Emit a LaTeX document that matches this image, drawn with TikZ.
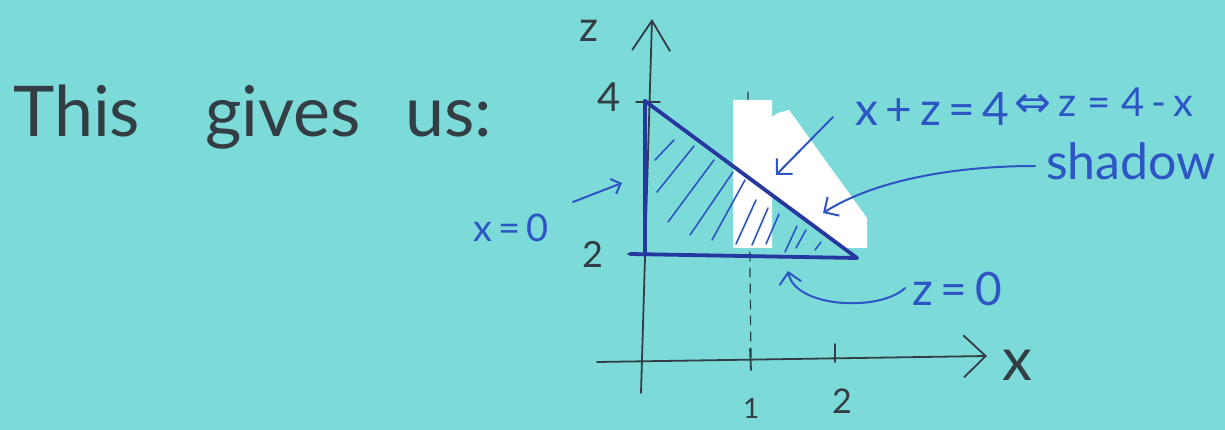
\documentclass[tikz,border=0pt]{standalone}
\usepackage{fontspec}
\setmainfont{Lato}
\newfontfamily\symfont{DejaVu Sans}
\usetikzlibrary{arrows.meta}
\definecolor{bgc}{RGB}{124,218,216}
\definecolor{penc}{RGB}{45,85,195}
\definecolor{inkc}{RGB}{38,55,160}
\definecolor{pencilc}{RGB}{50,62,68}
\newcommand{\fs}[1]{\fontsize{#1}{#1}\selectfont}
\begin{document}
\begin{tikzpicture}[x=1pt,y=-1pt,
  pencil/.style={draw=pencilc, line width=1.8pt, line cap=round},
  thickpen/.style={draw=inkc, line width=3.8pt, line cap=round, line join=round},
  pen/.style={draw=penc, line width=2pt, line cap=round},
  hatch/.style={draw=penc, line width=1.6pt, line cap=round},
  barb/.style={-{Straight Barb[length=11pt,width=22pt]}},
  lbl/.style={text=penc, inner sep=0pt, anchor=base west},
  plbl/.style={text=pencilc, inner sep=0pt, anchor=base west}
]
\useasboundingbox (0,0) rectangle (1225,430);
\fill[bgc] (0,0) rectangle (1225,430);

% title
\node (t1) [plbl, font=\fs{70}] at (13,137) {This};
\node (t2) [plbl, font=\fs{70}] at (205,137) {gives};
\node (t3) [plbl, font=\fs{70}] at (405,137) {us:};

% axes
\coordinate (zbot) at (641,393);
\coordinate (ztop) at (652,19);
\coordinate (xl) at (597,362);
\coordinate (xr) at (987,356);
\draw[pencil, -{Straight Barb[length=30pt,width=38pt]}] (zbot) -- (ztop);
\draw[pencil, -{Straight Barb[length=22pt,width=42pt]}] (xl) -- (xr);
% dashed guide (mostly hidden under whiteout)
\coordinate (dtop) at (748,92);
\coordinate (dbot) at (751,358);
\draw[pencil, line width=1.2pt, dash pattern=on 9pt off 7pt] (dtop) -- (dbot);

% ticks
\draw[pencil] (636,102) -- (660,102);
\draw[pencil] (628,254) -- (650,254);
\draw[pencil] (750,349) -- (751,370);
\draw[pencil] (835,344) -- (835,362);

% axis labels
\node (zl) [plbl, font=\fs{42}] at (579,42) {z};
\node (z4) [plbl, font=\fs{40}] at (597,112) {4};
\node (z2) [plbl, font=\fs{36}] at (582,268) {2};
\node (x1) [plbl, font=\fs{28}] at (743,418) {1};
\node (x2) [plbl, font=\fs{34}] at (832,413) {2};
\node (xl2) [plbl, font=\fs{60}] at (1002,380) {x};

% whiteout
\fill[white] (733,100) -- (772,100) -- (772,117) -- (778,113) -- (789,110)
  -- (867,218) -- (867,248) -- (846,248) -- (772,193) -- (772,248)
  -- (733,248) -- cycle;

% hatching
\draw[hatch] (655,160) -- (674,140);
\draw[hatch] (657,192) -- (694,146);
\draw[hatch] (668,222) -- (714,160);
\draw[hatch] (690,235) -- (733,172);
\draw[hatch] (712,240) -- (745,180);
\draw[hatch] (736,244) -- (756,200);
\draw[hatch] (752,245) -- (768,208);
\draw[hatch] (766,244) -- (779,214);
\draw[hatch] (785,252) -- (797,226);
\draw[hatch] (796,248) -- (806,230);
\draw[hatch] (815,250) -- (821,242);

% triangle
\coordinate (A) at (645,101);
\coordinate (B) at (645,255);
\coordinate (C) at (857,258);
\draw[thickpen] (A) -- (B);
\draw[thickpen] (A) -- (C);
\draw[thickpen] (630,254) -- (C);

% labels
\node (eq) [lbl, font=\fs{46}] at (855,126) {x\,+\,z\,=\,4};
\node (iff) [lbl, font=\fs{44}\symfont] at (1014,118) {⇔};
\node (eq2) [lbl, font=\fs{40}] at (1058,117) {z\;=\;4\,-\,x};
\node (sh) [lbl, font=\fs{50}] at (1046,180) {shadow};
\node (x0) [lbl, font=\fs{38}] at (473,241) {x\,=\,0};
\node (z0) [lbl, font=\fs{46}] at (912,305) {z\,=\,0};

% arrows
\coordinate (eqs) at (833,117);
\coordinate (eqt) at (776,175);
\draw[pen, barb] (eqs) -- (eqt);
\coordinate (shs) at (1035,166);
\coordinate (sht) at (823,213);
\draw[pen, barb] (shs) .. controls (955,166) and (875,180) .. (sht);
\coordinate (zs) at (905,288);
\coordinate (zt) at (788,271);
\draw[pen, barb] (zs) .. controls (880,312) and (795,308) .. (zt);
\coordinate (xs) at (573,202);
\coordinate (xt) at (622,183);
\draw[pen, -{Straight Barb[length=8pt,width=16pt]}] (xs) -- (xt);
\end{tikzpicture}
\end{document}
